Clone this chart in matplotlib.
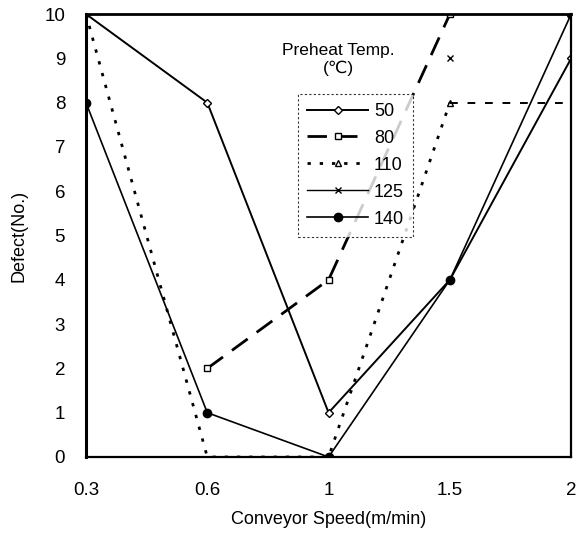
import numpy as np
import matplotlib
matplotlib.use("Agg")
import matplotlib.pyplot as plt

# ----- DATA -----
speeds = ["0.3", "0.6", "1", "1.5", "2"]
temps = ["50", "80", "110", "125", "140"]

defect_50 = [10, 8, 1, 4, 9]
defect_80 = [np.nan, 2, 4, 10, np.nan]
defect_110 = [10, 0, 0, 8, 8]
defect_125 = [np.nan, np.nan, np.nan, 9, np.nan]
defect_140 = [8, 1, 0, 4, 10]

y_ticks = list(range(0, 11))

# ----- PLOT -----
plt.rcParams['font.family'] = ['Liberation Sans', 'DejaVu Sans']

fig = plt.figure(figsize=(5.79, 5.33), dpi=100)
ax = fig.add_axes([0.1485, 0.1426, 0.838, 0.831])

x = np.arange(len(speeds))

ax.plot(x, defect_50, color="black", linewidth=1.4, marker="D", markersize=4,
        markerfacecolor="white", markeredgewidth=1.0, label=temps[0])
ax.plot(x, defect_80, color="black", linewidth=2.0, dashes=(7, 4), marker="s",
        markersize=5, markerfacecolor="white", label=temps[1])
# 110 series: dotted up to 1.5, dashed to 2
ax.plot(x[:4], defect_110[:4], color="black", linewidth=2.0, dashes=(1.2, 3.2),
        marker="^", markersize=5, markerfacecolor="white", markevery=[3], label=temps[2])
ax.plot(x[3:], defect_110[3:], color="black", linewidth=1.4, dashes=(4, 5))
ax.plot(x, defect_125, color="black", linewidth=1.0, marker="x", markersize=5,
        label=temps[3])
ax.plot(x, defect_140, color="black", linewidth=1.2, marker="o", markersize=6,
        label=temps[4])

ax.set_xlim(0, len(speeds) - 1)
ax.set_ylim(0, 10)
ax.set_xticks(x)
ax.set_xticklabels(speeds)
ax.set_yticks(y_ticks)
ax.tick_params(axis="both", length=0, labelsize=13.5)
ax.tick_params(axis="x", pad=18)
ax.tick_params(axis="y", pad=15)

for side, lw in [("left", 2.2), ("top", 2.0), ("right", 1.6), ("bottom", 1.6)]:
    ax.spines[side].set_linewidth(lw)
    ax.spines[side].set_color("black")

ax.set_xlabel("Conveyor Speed(m/min)", fontsize=13, labelpad=9)
ax.set_ylabel("Defect(No.)", fontsize=13, labelpad=12)

leg = ax.legend(loc="upper left", bbox_to_anchor=(0.437, 0.82), fontsize=13,
                frameon=True, fancybox=False, handlelength=3.4,
                borderpad=0.5, labelspacing=0.55, handletextpad=0.3,
                borderaxespad=0.0)
leg.get_frame().set_edgecolor("black")
leg.get_frame().set_linewidth(0.8)
leg.get_frame().set_linestyle((0, (2, 2)))

ax.text(0.52, 0.935, "Preheat Temp.\n(\u2103)", transform=ax.transAxes,
        ha="center", va="top", fontsize=12.5, linespacing=1.25)

fig.savefig("out.png", dpi=100)
